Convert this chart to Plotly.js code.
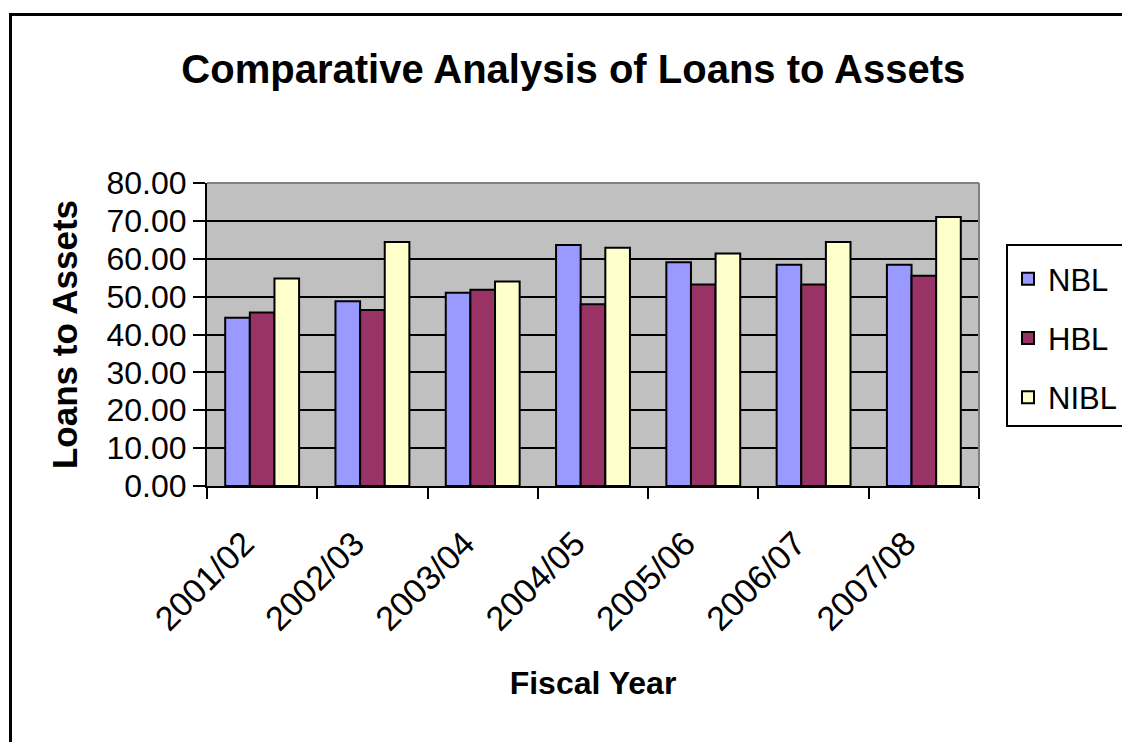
<!DOCTYPE html>
<html>
<head>
<meta charset="utf-8">
<script src="https://cdn.plot.ly/plotly-3.0.1.min.js"></script>
<style>
html,body{margin:0;padding:0;overflow:hidden;background:#fff;}
#chart{width:1122px;height:742px;}
#frame{position:absolute;left:9px;top:13px;width:1300px;height:900px;border-left:3px solid #000;border-top:3px solid #000;pointer-events:none;}
</style>
</head>
<body>
<div id="chart"></div>
<div id="frame"></div>
<script>
const categories = ["2001/02","2002/03","2003/04","2004/05","2005/06","2006/07","2007/08"];
const nbl  = [44.4, 48.8, 51.0, 63.6, 59.1, 58.4, 58.4];
const hbl  = [45.8, 46.5, 51.8, 48.0, 53.2, 53.2, 55.5];
const nibl = [54.8, 64.4, 54.0, 62.9, 61.4, 64.4, 71.0];
const seriesNames = ["NBL","HBL","NIBL"];
const seriesColors = ["#9999FF","#993366","#FFFFCC"];
const yTicks = [0,10,20,30,40,50,60,70,80];
const yTickText = yTicks.map(v => v.toFixed(2));

const FONT = "Liberation Sans, Arial, sans-serif";
const allSeries = [nbl, hbl, nibl];
const traces = allSeries.map((vals, i) => ({
  type: "bar",
  name: seriesNames[i],
  x: categories,
  y: vals,
  legendgroup: "g" + i,
  marker: {color: seriesColors[i], line: {color: "#000", width: 2}},
  hoverinfo: "x+y+name"
}));

const layout = {
  width: 1122, height: 742,
  margin: {l: 207, r: 143, t: 183, b: 256, autoexpand: false},
  paper_bgcolor: "#fff",
  plot_bgcolor: "#C0C0C0",
  barmode: "group",
  bargap: 0.33,
  bargroupgap: 0,
  font: {family: FONT, color: "#000"},
  title: {
    text: "<b>Comparative Analysis of Loans to Assets</b>",
    font: {family: FONT, size: 40, color: "#000"},
    x: 0.511, xref: "container", xanchor: "center",
    y: 0.907, yref: "container", yanchor: "middle"
  },
  xaxis: {
    type: "category",
    tickangle: -45,
    tickfont: {family: FONT, size: 34, color: "#000"},
    ticks: "outside", ticklen: 11, tickwidth: 2, tickcolor: "#000",
    tickson: "boundaries",
    ticklabelstandoff: 22,
    ticklabelshift: -18,
    showline: true, linecolor: "#000", linewidth: 2,
    showgrid: false,
    title: {text: "<b>Fiscal Year</b>", font: {family: FONT, size: 32, color: "#000"}, standoff: 35}
  },
  yaxis: {
    range: [0, 80],
    tickvals: yTicks, ticktext: yTickText,
    tickfont: {family: FONT, size: 32, color: "#000"},
    ticks: "outside", ticklen: 12, tickwidth: 2, tickcolor: "#000",
    showline: true, linecolor: "#000", linewidth: 2,
    showgrid: true, gridcolor: "#000", gridwidth: 2,
    zeroline: false,
    title: {text: "<b>Loans to Assets</b>", font: {family: FONT, size: 35, color: "#000"}, standoff: 18}
  },
  legend: {
    x: 1.035, xanchor: "left", xref: "paper",
    y: 0.80, yanchor: "top", yref: "paper",
    bgcolor: "#fff", bordercolor: "#000", borderwidth: 2,
    font: {family: FONT, size: 31, color: "#000"},
    title: {text: " ", font: {family: FONT, size: 5}},
    tracegroupgap: 16,
    traceorder: "grouped"
  },
  shapes: [
    {type: "line", xref: "paper", yref: "paper", x0: 0, x1: 1, y0: 1, y1: 1, line: {color: "#808080", width: 2}},
    {type: "line", xref: "paper", yref: "paper", x0: 1, x1: 1, y0: 0, y1: 1, line: {color: "#808080", width: 2}}
  ],
  showlegend: true
};

Plotly.newPlot("chart", traces, layout, {staticPlot: true, displayModeBar: false});
</script>
</body>
</html>
